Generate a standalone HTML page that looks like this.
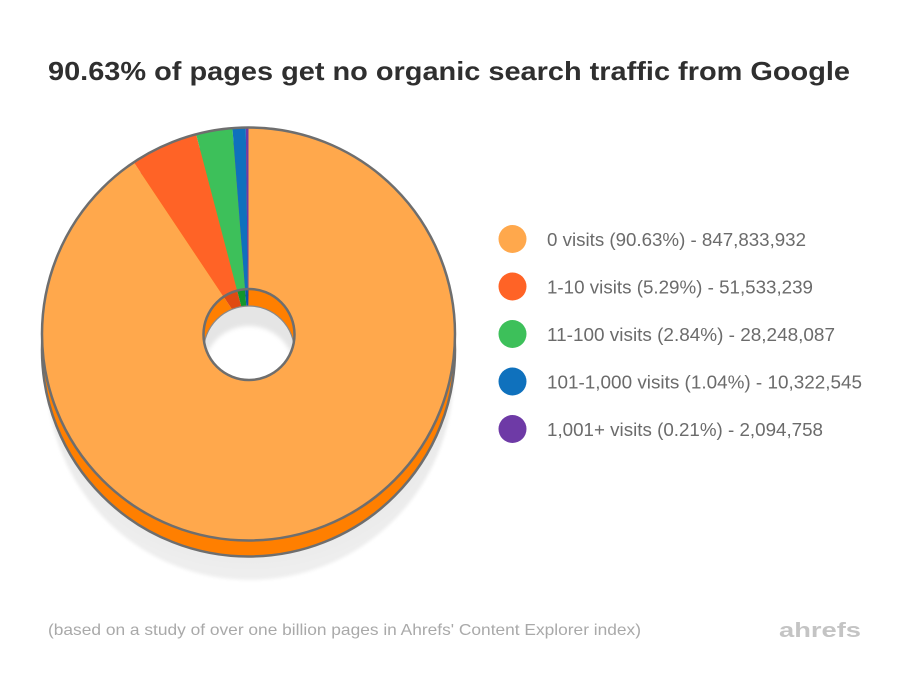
<!DOCTYPE html>
<html>
<head>
<meta charset="utf-8">
<style>
  html,body{margin:0;padding:0;background:#fff;}
  svg{display:block;}
</style>
</head>
<body>
<svg width="900" height="700" viewBox="0 0 900 700" xmlns="http://www.w3.org/2000/svg">
  <defs>
    <filter id="blur" x="-10%" y="-10%" width="120%" height="120%">
      <feGaussianBlur stdDeviation="1.5"/>
    </filter>
    <radialGradient id="shg" cx="0.5" cy="0.4" r="0.6">
      <stop offset="0" stop-color="#e4e4e4"/>
      <stop offset="0.85" stop-color="#e9e9e9"/>
      <stop offset="1" stop-color="#efefef"/>
    </radialGradient>
    <clipPath id="holeClip">
      <circle cx="249" cy="334.5" r="45.5"/>
    </clipPath>
    <filter id="soft" x="-20%" y="-20%" width="140%" height="140%">
      <feGaussianBlur stdDeviation="2"/>
    </filter>
  </defs>

  <rect width="900" height="700" fill="#fff"/>

  <!-- Title -->
  <text x="48" y="80" font-family="Liberation Sans, sans-serif" font-weight="bold" font-size="26" fill="#2f2f2f" textLength="802" lengthAdjust="spacingAndGlyphs">90.63% of pages get no organic search traffic from Google</text>

  <!-- Shadow -->
  <circle cx="250" cy="377" r="203" fill="url(#shg)" filter="url(#blur)"/>

  <!-- Side of pie -->
  <circle cx="248.5" cy="350" r="206.5" fill="#ff7f00" stroke="#6e6e6e" stroke-width="2.5"/>

  <!-- Top face wedges -->
  <g>
    <path d="M248.5,334 L248.5,127.5 A206.5,206.5 0 1 1 133.8,162.3 Z" fill="#ffa84c"/>
    <path d="M248.5,334 L133.8,162.3 A206.5,206.5 0 0 1 196.1,134.3 Z" fill="#ff6326"/>
    <path d="M248.5,334 L196.1,134.3 A206.5,206.5 0 0 1 232.4,128.1 Z" fill="#3dc05a"/>
    <path d="M248.5,334 L232.4,128.1 A206.5,206.5 0 0 1 245.8,127.5 Z" fill="#0f71bd"/>
    <path d="M248.5,334 L245.8,127.5 A206.5,206.5 0 0 1 248.5,127.5 Z" fill="#6e3aa6"/>
  </g>
  <circle cx="248.5" cy="334" r="206.5" fill="none" stroke="#6e6e6e" stroke-width="2.5"/>

  <!-- Hole -->
  <g clip-path="url(#holeClip)">
    <rect x="190" y="280" width="120" height="120" fill="#ffffff"/>
    <path d="M248.5,334 L248.5,240 A94,94 0 1 1 196.3,255.8 Z" fill="#ff7f00"/>
    <path d="M248.5,334 L196.3,255.8 A94,94 0 0 1 224.7,243.1 Z" fill="#e04a12"/>
    <path d="M248.5,334 L224.7,243.1 A94,94 0 0 1 241.2,240.3 Z" fill="#12962c"/>
    <path d="M248.5,334 L241.2,240.3 A94,94 0 0 1 247.3,240 Z" fill="#0b55a6"/>
    <path d="M248.5,334 L247.3,240 A94,94 0 0 1 248.5,240 Z" fill="#4b2a85"/>
    <circle cx="249" cy="351.5" r="45.5" fill="#e5e5e5" stroke="#8a8a8a" stroke-width="1.2"/>
    <circle cx="249" cy="372" r="46" fill="#ffffff" filter="url(#soft)"/>
  </g>
  <circle cx="249" cy="334.5" r="45.5" fill="none" stroke="#6e6e6e" stroke-width="2.5"/>

  <!-- Legend -->
  <g font-family="Liberation Sans, sans-serif" font-size="18" fill="#6b6b6b">
    <circle cx="512.5" cy="239" r="14" fill="#ffa84c"/>
    <text x="547" y="246" textLength="259" lengthAdjust="spacingAndGlyphs">0 visits (90.63%) - 847,833,932</text>

    <circle cx="512.5" cy="286.5" r="14" fill="#ff6326"/>
    <text x="547" y="293.5" textLength="266" lengthAdjust="spacingAndGlyphs">1-10 visits (5.29%) - 51,533,239</text>

    <circle cx="512.5" cy="334" r="14" fill="#3dc05a"/>
    <text x="547" y="341" textLength="288" lengthAdjust="spacingAndGlyphs">11-100 visits (2.84%) - 28,248,087</text>

    <circle cx="512.5" cy="381.5" r="14" fill="#0f71bd"/>
    <text x="547" y="388.5" textLength="315" lengthAdjust="spacingAndGlyphs">101-1,000 visits (1.04%) - 10,322,545</text>

    <circle cx="512.5" cy="429" r="14" fill="#6e3aa6"/>
    <text x="547" y="436" textLength="276" lengthAdjust="spacingAndGlyphs">1,001+ visits (0.21%) - 2,094,758</text>
  </g>

  <!-- Footer -->
  <text x="48" y="635" font-family="Liberation Sans, sans-serif" font-size="16" fill="#a9a9a9" textLength="593" lengthAdjust="spacingAndGlyphs">(based on a study of over one billion pages in Ahrefs' Content Explorer index)</text>
  <text x="779" y="637" font-family="Liberation Sans, sans-serif" font-weight="bold" font-size="20" fill="#c4c4c4" textLength="82" lengthAdjust="spacingAndGlyphs">ahrefs</text>
</svg>
</body>
</html>
